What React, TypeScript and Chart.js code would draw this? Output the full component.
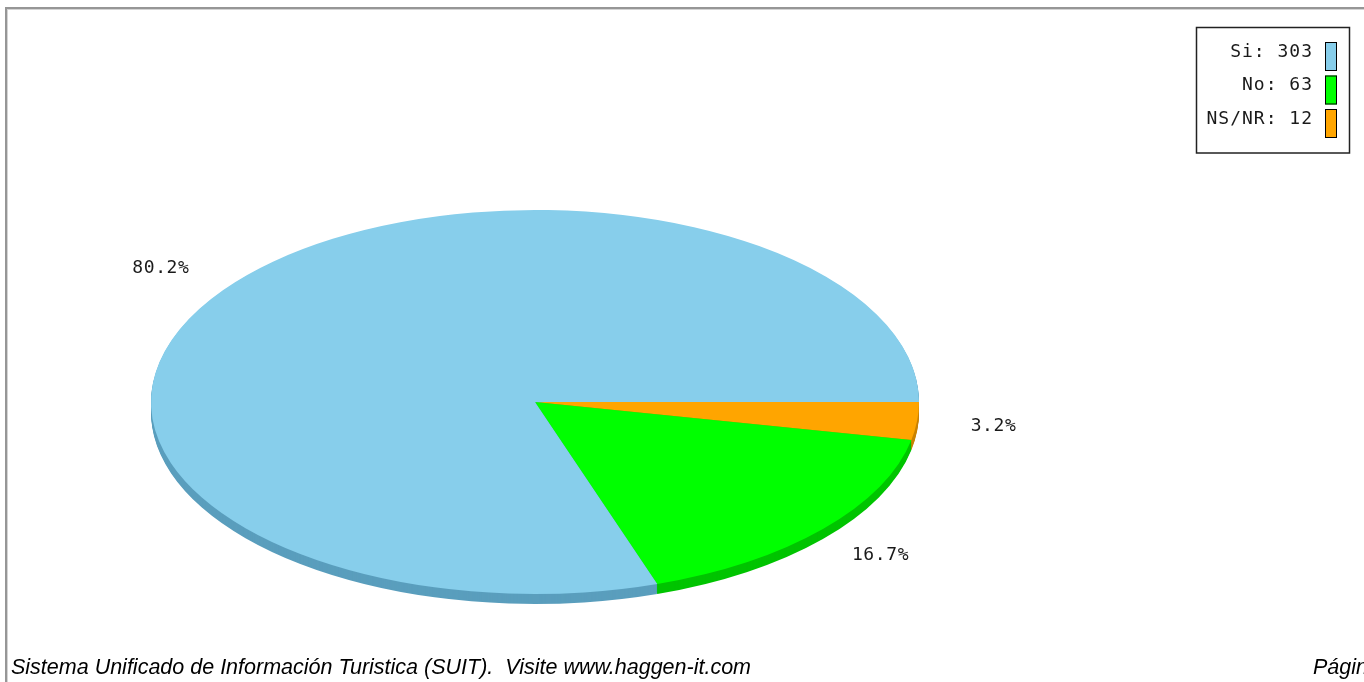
import React, { useEffect, useRef } from "react";
import { Chart, registerables } from "chart.js";

Chart.register(...registerables);

// ---- data ----
const categories: string[] = ["Si", "No", "NS/NR"];
const values: number[] = [303, 63, 12];
const topColors: string[] = ["#87CEEB", "#00FF00", "#FFA500"];
const sideColors: string[] = ["#5A9EBD", "#00C400", "#C98200"];
const footerText = "Sistema Unificado de Información Turistica (SUIT).  Visite www.haggen-it.com";
const footerRight = "Página 1 de 1";

// ---- layout constants ----
const W = 1364;
const H = 682;
const PIE_CX = 535;
const PIE_CY = 402;
const RX = 384;
const RY = 192;
const DEPTH = 10;
const LABEL_R = 1.2;

const total = values.reduce((a, b) => a + b, 0);
// drawn clockwise from 3 o'clock: NS/NR, No, Si
const order = [2, 1, 0];

function applyT(chart: any, k: number) {
  const ctx = chart.ctx;
  const ca = chart.chartArea;
  const cx0 = (ca.left + ca.right) / 2;
  const cy0 = (ca.top + ca.bottom) / 2;
  const meta = chart.getDatasetMeta(0);
  const R = (meta.data[0] as any).outerRadius || 1;
  ctx.translate(PIE_CX, PIE_CY + k);
  ctx.scale(RX / R, RY / R);
  ctx.translate(-cx0, -cy0);
}

const pie3d = {
  id: "pie3d",
  beforeDatasetsDraw(chart: any) {
    const ctx = chart.ctx;
    const meta = chart.getDatasetMeta(0);
    for (let k = DEPTH; k >= 1; k--) {
      ctx.save();
      applyT(chart, k);
      meta.data.forEach((el: any, i: number) => {
        const { x, y, startAngle, endAngle, outerRadius } = el;
        ctx.beginPath();
        ctx.moveTo(x, y);
        ctx.arc(x, y, outerRadius, startAngle, endAngle);
        ctx.closePath();
        ctx.fillStyle = sideColors[order[i]];
        ctx.fill();
      });
      ctx.restore();
    }
    ctx.save();
    applyT(chart, 0);
  },
  afterDatasetsDraw(chart: any) {
    const ctx = chart.ctx;
    ctx.restore();
    const meta = chart.getDatasetMeta(0);
    // percentage labels
    ctx.save();
    ctx.font = "18px 'DejaVu Sans Mono', monospace";
    (ctx as any).letterSpacing = "0.6px";
    ctx.fillStyle = "#1a1a1a";
    ctx.textAlign = "center";
    ctx.textBaseline = "middle";
    meta.data.forEach((el: any, i: number) => {
      const mid = (el.startAngle + el.endAngle) / 2;
      const px = PIE_CX + Math.cos(mid) * RX * LABEL_R;
      const py = PIE_CY + Math.sin(mid) * RY * LABEL_R;
      const v = values[order[i]];
      ctx.fillText(((v / total) * 100).toFixed(1) + "%", px, py + 1);
    });
    ctx.restore();

    // legend
    ctx.save();
    ctx.fillStyle = "#fff";
    ctx.fillRect(1196, 27, 154, 126);
    ctx.strokeStyle = "#222";
    ctx.lineWidth = 1.5;
    ctx.strokeRect(1196.5, 27.5, 153, 125.5);
    ctx.font = "18px 'DejaVu Sans Mono', monospace";
    (ctx as any).letterSpacing = "1px";
    ctx.textAlign = "right";
    ctx.textBaseline = "middle";
    categories.forEach((c, i) => {
      const cy = 52 + i * 33.5;
      ctx.fillStyle = "#1a1a1a";
      ctx.fillText(c + ": " + values[i], 1313, cy);
      ctx.fillStyle = topColors[i];
      ctx.fillRect(1325, cy - 10, 12, 29);
      ctx.strokeStyle = "#000";
      ctx.lineWidth = 1;
      ctx.strokeRect(1325.5, cy - 9.5, 11, 28);
    });
    ctx.restore();
  },
};

export default function App() {
  const ref = useRef<HTMLCanvasElement | null>(null);
  useEffect(() => {
    if (!ref.current) return;
    const chart = new Chart(ref.current, {
      type: "pie",
      data: {
        labels: order.map((i) => categories[i]),
        datasets: [
          {
            data: order.map((i) => values[i]),
            backgroundColor: order.map((i) => topColors[i]),
            borderWidth: 0,
            hoverOffset: 0,
          },
        ],
      },
      options: {
        animation: false,
        responsive: false,
        rotation: 90,
        layout: { padding: { left: 215, right: W - 855, top: 21, bottom: 21 } },
        plugins: { legend: { display: false }, tooltip: { enabled: false } },
        events: [],
      },
      plugins: [pie3d],
    });
    return () => chart.destroy();
  }, []);

  const footerStyle: React.CSSProperties = {
    position: "absolute",
    top: 657,
    fontFamily: "'Liberation Sans', Arial, sans-serif",
    fontStyle: "italic",
    fontSize: 21.5,
    lineHeight: "21.5px",
    whiteSpace: "pre",
    color: "#000",
  };

  return (
    <div
      style={{
        position: "fixed",
        left: 0,
        top: 0,
        width: W,
        height: H,
        overflow: "hidden",
        background: "#fff",
      }}
    >
      <div
        style={{
          position: "absolute",
          left: 5,
          top: 7,
          width: W + 20,
          height: H + 20,
          borderTop: "2px solid #969696",
          borderLeft: "2px solid #969696",
          boxShadow: "inset 1px 1px 0 #d4d4d4",
        }}
      />
      <canvas ref={ref} width={W} height={H} style={{ position: "absolute", left: 0, top: 0 }} />
      <div style={{ ...footerStyle, left: 11 }}>{footerText}</div>
      <div style={{ ...footerStyle, left: 1313 }}>{footerRight}</div>
    </div>
  );
}
